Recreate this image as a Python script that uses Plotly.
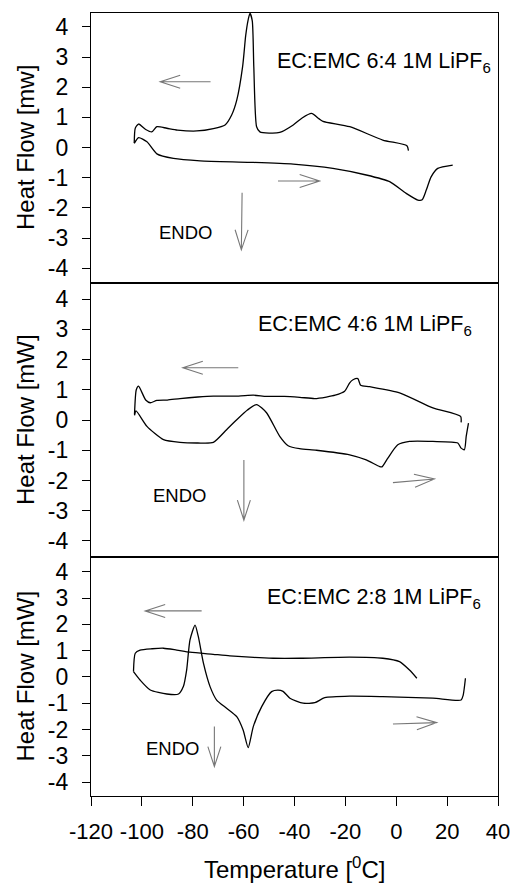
import plotly.graph_objects as go
import math

# ---------------- data ----------------
# EC:EMC 6:4
cool64_x = [4.8, 4.2, -5.3, -18.3, -28.8, -30.3, -33.3, -37.0, -40.5, -45.8, -50.0, -53.6, -54.9, -56.0, -56.6,
            -57.5, -58.3, -59.2, -60.4, -62.7, -64.7, -67.3, -71.9, -78.4, -86.0, -90.2, -94.1, -96.1, -98.5,
            -101.3, -102.6, -103.0]
cool64_y = [-0.10, 0.06, 0.25, 0.69, 0.87, 0.95, 1.13, 0.98, 0.75, 0.50, 0.48, 0.52, 0.69, 2.68, 4.20,
            4.45, 4.20, 3.70, 2.68, 1.57, 1.08, 0.75, 0.63, 0.55, 0.58, 0.64, 0.69, 0.52, 0.60,
            0.78, 0.64, 0.15]
heat64_x = [-103.0, -101.3, -98.0, -94.1, -87.6, -77.1, -57.5, -40.5, -24.9, -11.8, -2.6, 3.9, 8.5, 10.2,
            11.8, 13.7, 16.3, 22.2]
heat64_y = [0.14, 0.33, 0.19, -0.21, -0.36, -0.44, -0.49, -0.55, -0.69, -0.91, -1.13, -1.52, -1.74, -1.73,
            -1.41, -0.97, -0.69, -0.58]

# EC:EMC 4:6
cool46_x = [25.5, 25.3, 14.4, 1.3, -10.5, -14.0, -15.1, -17.0, -18.3, -20.3, -24.0, -27.5, -32.0, -37.9,
            -44.0, -51.0, -56.2, -62.0, -71.9, -78.0, -85.0, -90.0, -94.1, -96.7, -98.5, -101.3, -102.2, -102.9]
cool46_y = [-0.08, 0.12, 0.40, 0.90, 1.10, 1.15, 1.37, 1.33, 1.23, 0.95, 0.82, 0.76, 0.71, 0.75,
            0.78, 0.78, 0.82, 0.79, 0.79, 0.76, 0.71, 0.66, 0.65, 0.57, 0.66, 1.12, 1.00, 0.18]
heat46_x = [-102.9, -102.3, -98.0, -91.5, -85.0, -78.0, -71.9, -66.7, -62.7, -58.5, -54.9, -51.0, -45.8,
            -42.5, -38.0, -31.4, -18.3, -11.8, -6.5, -5.6, -3.3, 0.6, 5.2, 14.4, 24.2, 25.5, 26.8, 27.5, 28.4]
heat46_y = [0.15, 0.30, -0.21, -0.65, -0.74, -0.76, -0.74, -0.32, 0.01, 0.33, 0.51, 0.24, -0.54,
            -0.85, -0.95, -1.00, -1.15, -1.32, -1.54, -1.55, -1.26, -0.82, -0.71, -0.71, -0.76, -0.93, -0.98,
            -0.54, -0.10]

# EC:EMC 2:8
cool28_x = [8.1, 5.2, 1.3, -5.3, -18.3, -37.9, -48.4, -56.0, -65.4, -72.0, -81.1, -86.3, -91.5, -96.0,
            -100.7, -102.6, -103.3]
cool28_y = [-0.05, 0.26, 0.58, 0.71, 0.75, 0.71, 0.71, 0.74, 0.80, 0.86, 0.94, 1.02, 1.09, 1.07,
            1.02, 0.90, 0.20]
heat28_x = [-103.3, -100.7, -96.7, -90.2, -85.6, -83.7, -82.4, -81.1, -79.1, -77.8, -75.8, -73.2, -70.6,
            -66.7, -62.7, -60.2, -58.2, -56.2, -52.9, -49.0, -46.5, -44.5, -41.8, -36.6, -32.0, -28.1,
            -18.3, -5.3, 14.4, 25.5, 26.3, 27.2]
heat28_y = [0.20, -0.12, -0.50, -0.65, -0.65, -0.37, 0.26, 1.40, 1.97, 1.53, 0.52, -0.37, -0.88,
            -1.19, -1.51, -2.02, -2.69, -1.89, -1.13, -0.56, -0.50, -0.55, -0.81, -1.00, -0.98, -0.79,
            -0.73, -0.75, -0.81, -0.88, -0.70, -0.05]

x_ticks = [-120, -100, -80, -60, -40, -20, 0, 20, 40]
x_tick_text = ["-120", "-100", "-80", "-60", "-40", "-20", "0", "20", "40"]
y_ticks = [-4, -3, -2, -1, 0, 1, 2, 3, 4]
y_tick_text = ["-4", "-3", "-2", "-1", "0", "1", "2", "3", "4"]

panel_labels = ["EC:EMC 6:4 1M LiPF<sub>6</sub>", "EC:EMC 4:6 1M LiPF<sub>6</sub>", "EC:EMC 2:8 1M LiPF<sub>6</sub>"]
y_titles = ["Heat Flow [mw]", "Heat Flow [mW]", "Heat Flow [mW]"]
x_title = "Temperature [<sup>0</sup>C]"

# ---------------- layout geometry ----------------
W, H = 513, 884
ML, MR, MT, MB = 91, 15, 13, 88
PH = H - MT - MB
bounds = [(13, 283), (283, 557), (557, 796)]
domains = [[(H - MB - b) / PH, (H - MB - t) / PH] for t, b in bounds]
y_ranges = [[-4.49, 4.46], [-4.53, 4.53], [-4.53, 4.56]]
x_range = [-120, 40]

FONT = "Liberation Sans, Arial, sans-serif"
fig = go.Figure()

series = [(cool64_x, cool64_y, heat64_x, heat64_y),
          (cool46_x, cool46_y, heat46_x, heat46_y),
          (cool28_x, cool28_y, heat28_x, heat28_y)]
for i, (cx, cy, hx, hy) in enumerate(series):
    xa = "x" if i == 0 else f"x{i+1}"
    ya = "y" if i == 0 else f"y{i+1}"
    for xs, ys in ((cx, cy), (hx, hy)):
        fig.add_trace(go.Scatter(x=xs, y=ys, mode="lines", xaxis=xa, yaxis=ya,
                                 line=dict(color="black", width=1.3, shape="spline", smoothing=0.6),
                                 showlegend=False, hoverinfo="skip"))

axis_common = dict(showline=True, linecolor="black", linewidth=1.2, mirror=True,
                   showgrid=False, zeroline=False, automargin=False)
layout = dict(width=W, height=H, margin=dict(l=ML, r=MR, t=MT, b=MB, autoexpand=False),
              paper_bgcolor="white", plot_bgcolor="white", showlegend=False,
              font=dict(family=FONT, color="black"))
for i in range(3):
    xk = "xaxis" if i == 0 else f"xaxis{i+1}"
    yk = "yaxis" if i == 0 else f"yaxis{i+1}"
    ya = "y" if i == 0 else f"y{i+1}"
    xa = "x" if i == 0 else f"x{i+1}"
    last = (i == 2)
    layout[xk] = dict(axis_common, range=x_range, anchor=ya, domain=[0, 1],
                      tickvals=x_ticks if last else [], ticktext=x_tick_text if last else [],
                      ticks="outside" if last else "", tickangle=0,
                      ticklen=9, tickwidth=1.2, tickcolor="black", ticklabelstandoff=6,
                      showticklabels=last, tickfont=dict(size=22, family=FONT))
    layout[yk] = dict(axis_common, range=y_ranges[i], anchor=xa, domain=domains[i],
                      tickvals=y_ticks, ticktext=y_tick_text, ticks="outside", ticklen=8,
                      tickwidth=1.2, tickcolor="black", ticklabelstandoff=9,
                      tickfont=dict(size=23, family=FONT))
fig.update_layout(**layout)

# ---------------- annotations ----------------
ann = []
centers = [(t + b) / 2 for t, b in bounds]
for i in range(3):
    ann.append(dict(text=y_titles[i], xref="paper", yref="paper", x=(25 - ML) / (W - ML - MR),
                    y=(H - MB - centers[i]) / PH, textangle=-90, showarrow=False,
                    xanchor="center", yanchor="middle", font=dict(size=24, family=FONT)))
label_pos = [(-47.5, 2.83), (-55.0, 3.11), (-51.5, 2.99)]
endo_pos = [(-83.0, -2.80), (-85.4, -2.48), (-88.0, -2.72)]
for i in range(3):
    xa = "x" if i == 0 else f"x{i+1}"
    ya = "y" if i == 0 else f"y{i+1}"
    ann.append(dict(text=panel_labels[i], xref=xa, yref=ya, x=label_pos[i][0], y=label_pos[i][1],
                    xanchor="left", yanchor="middle", showarrow=False, font=dict(size=21.5, family=FONT)))
    ann.append(dict(text="ENDO", xref=xa, yref=ya, x=endo_pos[i][0], y=endo_pos[i][1],
                    xanchor="center", yanchor="middle", showarrow=False, font=dict(size=18.5, family=FONT)))
ann.append(dict(text=x_title, xref="paper", yref="paper", x=0.5, y=(H - 868 - MB) / PH,
                xanchor="center", yanchor="middle", showarrow=False, font=dict(size=24, family=FONT)))
fig.update_layout(annotations=ann)

# ---------------- direction arrows (open V heads) ----------------
arrows = [
    [(-73.0, 2.18, -92.8, 2.18), (-46.5, -1.11, -30.1, -1.11), (-60.6, -1.50, -60.9, -3.39)],
    [(-62.1, 1.73, -83.9, 1.73), (-1.3, -2.07, 15.0, -1.95), (-59.9, -1.32, -59.9, -3.31)],
    [(-76.5, 2.51, -98.7, 2.51), (-1.3, -1.79, 15.9, -1.74), (-71.5, -1.89, -71.5, -3.41)],
]
px_per_x = (W - ML - MR) / (x_range[1] - x_range[0])
shapes = []
for i in range(3):
    xa = "x" if i == 0 else f"x{i+1}"
    ya = "y" if i == 0 else f"y{i+1}"
    t, b = bounds[i]
    px_per_y = (b - t) / (y_ranges[i][1] - y_ranges[i][0])
    for (x0, y0, x1, y1) in arrows[i]:
        dx = (x1 - x0) * px_per_x
        dy = (y1 - y0) * px_per_y
        L = math.hypot(dx, dy)
        ux, uy = dx / L, dy / L
        back, half = 20.0, 6.5
        wings = []
        for s in (1, -1):
            wx = -ux * back + s * (-uy) * half
            wy = -uy * back + s * ux * half
            wings.append((x1 + wx / px_per_x, y1 + wy / px_per_y))
        path = (f"M{x0},{y0} L{x1},{y1} M{wings[0][0]},{wings[0][1]} L{x1},{y1} "
                f"L{wings[1][0]},{wings[1][1]}")
        shapes.append(dict(type="path", path=path, xref=xa, yref=ya,
                           line=dict(color="#777777", width=1.1)))
fig.update_layout(shapes=shapes)

fig.write_html("out.html")
